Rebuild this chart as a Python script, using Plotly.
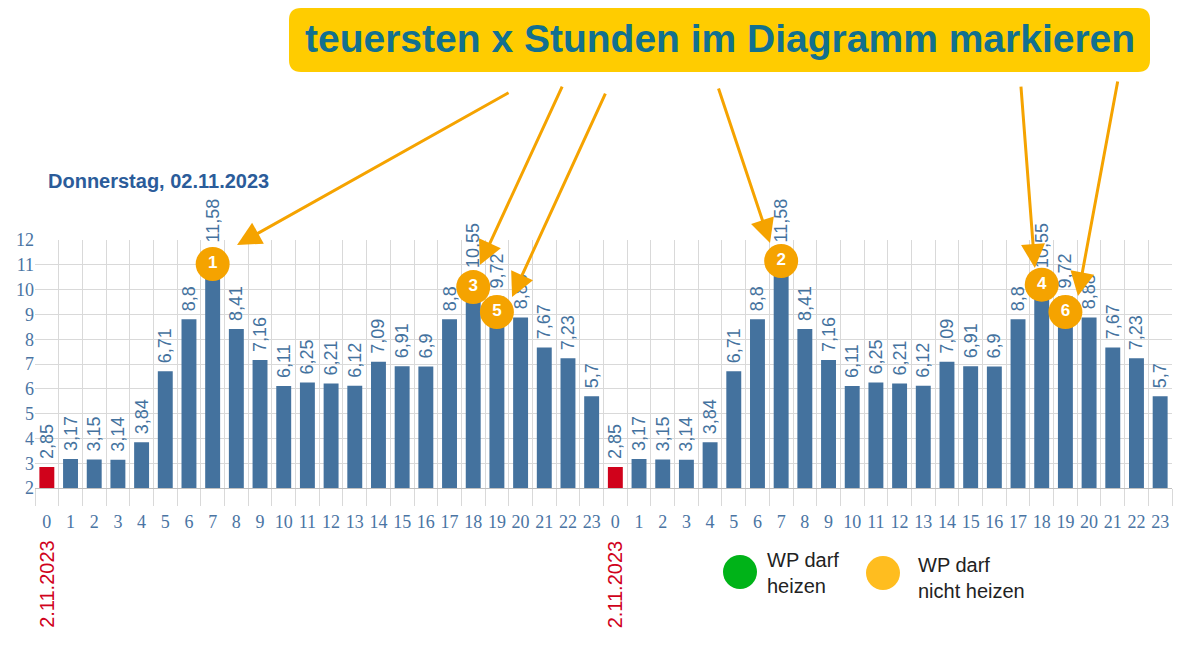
import plotly.graph_objects as go

# ---------------- data ----------------
hours = list(range(24))
prices_day = [2.85, 3.17, 3.15, 3.14, 3.84, 6.71, 8.8, 11.58, 8.41, 7.16, 6.11, 6.25,
              6.21, 6.12, 7.09, 6.91, 6.9, 8.8, 10.55, 9.72, 8.88, 7.67, 7.23, 5.7]
days = ["2.11.2023", "2.11.2023"]
prices = prices_day + prices_day
hour_labels = [str(h) for h in hours] * len(days)
positions = list(range(len(prices)))
price_text = ["\u00a0" + ("%g" % v).replace(".", ",") for v in prices]

# ranking markers (bar index, rank label)
mark_idx = [7, 31, 18, 42, 19, 43]
mark_lbl = ["1", "2", "3", "4", "5", "6"]
mark_y = [11.03, 11.15, 10.1, 10.2, 9.1, 9.1]

title_text = "Donnerstag, 02.11.2023"
banner_text = "teuersten x Stunden im Diagramm markieren"
legend_items = ["WP darf<br>heizen", "WP darf<br>nicht heizen"]

# ---------------- styles ----------------
BAR = "#44729E"
RED = "#D0021B"
ORANGE = "#F5A300"
TICK = "#4A74A3"
GRID = "#D9D9D9"
SANS = "Liberation Sans, Arial, sans-serif"
SERIF = "Liberation Serif, Times New Roman, serif"

W, H = 1200, 660
OFF = 8  # page body margin
# plot area in screen pixels
SL, SR, ST, SB = 35, 1172, 240, 488
PL, PR, PT, PB = SL - OFF, SR - OFF, ST - OFF, SB - OFF


def px(x):  # screen x -> paper
    return (x - SL) / (SR - SL)


def py(y):  # screen y -> paper
    return (SB - y) / (SB - ST)


colors = [RED if i % 24 == 0 else BAR for i in positions]

fig = go.Figure()
fig.add_trace(go.Bar(
    x=positions, y=prices, marker=dict(color=colors, line=dict(width=0)),
    text=price_text, textposition="outside", textangle=-90,
    textfont=dict(family=SANS, size=18, color=BAR),
    constraintext="none", cliponaxis=False, hoverinfo="skip", showlegend=False,
))

fig.add_trace(go.Scatter(
    x=mark_idx, y=mark_y, mode="markers+text", text=mark_lbl,
    textposition="middle center",
    textfont=dict(family=SANS, size=17, color="white", weight="bold"),
    marker=dict(size=34, color=ORANGE, line=dict(width=0)),
    cliponaxis=False, hoverinfo="skip", showlegend=False,
))

# arrows (head in data coords, tail offsets in pixels)
arrows = [
    (8.03, 11.8, 273, -153),
    (18.28, 10.99, 83, -180),
    (19.64, 9.70, 94, -205),
    (30.53, 11.88, -52, -156),
    (41.71, 10.87, -14, -183),
    (43.53, 9.74, 40, -216),
]
annotations = []
for x, y, ax, ay in arrows:
    annotations.append(dict(x=x, y=y, xref="x", yref="y", ax=ax, ay=ay,
                            showarrow=True, arrowhead=2, arrowsize=1.6,
                            arrowwidth=3, arrowcolor=ORANGE, text=""))

# banner
bx0, bx1, by0, by1, r = 289, 1150, 8, 72, 12
path = (f"M {px(bx0 + r)} {py(by0)} L {px(bx1 - r)} {py(by0)} "
        f"Q {px(bx1)} {py(by0)} {px(bx1)} {py(by0 + r)} "
        f"L {px(bx1)} {py(by1 - r)} Q {px(bx1)} {py(by1)} {px(bx1 - r)} {py(by1)} "
        f"L {px(bx0 + r)} {py(by1)} Q {px(bx0)} {py(by1)} {px(bx0)} {py(by1 - r)} "
        f"L {px(bx0)} {py(by0 + r)} Q {px(bx0)} {py(by0)} {px(bx0 + r)} {py(by0)} Z")
shapes = [dict(type="path", path=path, xref="paper", yref="paper",
               fillcolor="#FFCC00", line=dict(width=0), layer="above")]

annotations.append(dict(x=px(720), y=py(38), xref="paper", yref="paper",
                        text=banner_text, showarrow=False, xanchor="center", yanchor="middle",
                        font=dict(family=SANS, size=39, color="#12708F", weight="bold")))

annotations.append(dict(x=px(46), y=py(181), xref="paper", yref="paper",
                        text=title_text, showarrow=False, xanchor="left", yanchor="middle",
                        font=dict(family=SANS, size=20, color="#2B5C9A", weight="bold")))

# date labels
for d, day in enumerate(days):
    annotations.append(dict(x=d * 24, y=py(584), xref="x", yref="paper",
                            text=day, showarrow=False, textangle=-90,
                            xanchor="center", yanchor="middle",
                            font=dict(family=SANS, size=20, color=RED)))

# legend
leg_colors = ["#00B318", "#FFBD1F"]
leg_cx = [740, 883]
leg_cy = [572, 573]
leg_tx = [765, 916]
leg_ty = [573, 578]
for c, cx, cy, tx, ty, t in zip(leg_colors, leg_cx, leg_cy, leg_tx, leg_ty, legend_items):
    shapes.append(dict(type="circle", xref="paper", yref="paper",
                       x0=px(cx - 17), x1=px(cx + 17), y0=py(cy + 17), y1=py(cy - 17),
                       fillcolor=c, line=dict(width=0)))
    annotations.append(dict(x=px(tx), y=py(ty), xref="paper", yref="paper",
                            text=t, showarrow=False, xanchor="left", yanchor="middle",
                            align="left",
                            font=dict(family=SANS, size=20, color="#222222")))

boundaries = [p - 0.5 for p in positions] + [positions[-1] + 0.5]

fig.update_layout(
    width=W, height=H,
    margin=dict(l=PL, r=W - PR, t=PT, b=H - PB),
    plot_bgcolor="white", paper_bgcolor="white",
    bargap=0.37,
    shapes=shapes, annotations=annotations,
    xaxis=dict(
        type="linear", range=[-0.5, len(prices) - 0.5], automargin=False,
        tickmode="array", tickvals=positions, ticktext=hour_labels,
        ticks="outside", ticklen=17, tickcolor="rgba(0,0,0,0)",
        showgrid=False, zeroline=False,
        showline=True, linecolor="#BFBFBF", linewidth=1,
        tickfont=dict(family=SERIF, size=18, color=TICK),
        minor=dict(tickmode="array", tickvals=boundaries, ticks="outside", ticklen=17,
                   tickcolor=GRID, showgrid=True, gridcolor=GRID, gridwidth=1),
    ),
    yaxis=dict(
        range=[2, 12], dtick=1, tick0=0, showgrid=True, gridcolor=GRID,
        zeroline=False, ticks="", showline=False, automargin=False,
        tickfont=dict(family=SERIF, size=18, color=TICK),
    ),
)

fig.write_html("out.html")
